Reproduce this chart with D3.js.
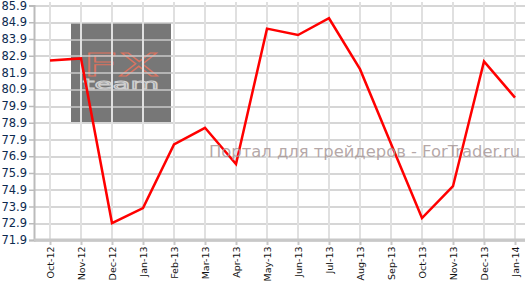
<!DOCTYPE html>
<html>
<head>
<meta charset="utf-8">
<script src="https://cdn.jsdelivr.net/npm/d3@7"></script>
<style>
  body { margin: 0; background: #fff; }
  svg { display: block; }
</style>
</head>
<body>
<div id="chart"></div>
<script>
// chart data
var months = ["Oct-12", "Nov-12", "Dec-12", "Jan-13", "Feb-13", "Mar-13", "Apr-13", "May-13",
  "Jun-13", "Jul-13", "Aug-13", "Sep-13", "Oct-13", "Nov-13", "Dec-13", "Jan-14"];
var values = [82.62, 82.74, 72.91, 73.81, 77.61, 78.6, 76.43, 84.52,
  84.14, 85.14, 82.1, 77.65, 73.21, 75.11, 82.56, 80.4];
var yTicks = [71.9, 72.9, 73.9, 74.9, 75.9, 76.9, 77.9, 78.9, 79.9, 80.9, 81.9, 82.9, 83.9, 84.9, 85.9];

var svgWidth = 525;
var svgHeight = 282;
var margin = { top: 5.5, right: -5, bottom: 42, left: 34 };
var width = svgWidth - margin.left - margin.right;
var height = svgHeight - margin.top - margin.bottom;

var svg = d3.select("#chart")
  .append("svg")
  .attr("width", svgWidth)
  .attr("height", svgHeight);

var g = svg.append("g")
  .attr("transform", `translate(${margin.left}, ${margin.top})`);

var x = d3.scalePoint()
  .domain(months)
  .range([16, 16 + 31 * 15]);

var y = d3.scaleLinear()
  .domain([71.9, 85.9])
  .range([height, 0]);

// watermark box (behind the grid)
g.append("rect")
  .attr("x", 71 - margin.left)
  .attr("y", 23 - margin.top)
  .attr("width", 100)
  .attr("height", 99)
  .attr("fill", "#777");

// logo: one text, two lines
var logo = g.append("text")
  .attr("transform", `translate(${83 - margin.left}, ${-margin.top})`)
  .attr("font-family", "DejaVu Sans")
  .attr("fill", "none");
logo.append("tspan")
  .attr("x", 0).attr("y", 76)
  .attr("font-size", 32)
  .attr("stroke", "#d9735f")
  .attr("stroke-width", 1)
  .attr("textLength", 76)
  .attr("lengthAdjust", "spacingAndGlyphs")
  .text("FX");
logo.append("tspan")
  .attr("x", 0).attr("y", 89)
  .attr("font-size", 14)
  .attr("stroke", "#cfcfcf")
  .attr("stroke-width", 0.9)
  .attr("textLength", 76)
  .attr("lengthAdjust", "spacingAndGlyphs")
  .text("team");

// horizontal grid
g.append("g")
  .selectAll("line")
  .data(yTicks)
  .join("line")
  .attr("x1", 0)
  .attr("x2", width)
  .attr("y1", d => Math.round(y(d)) + 0.5)
  .attr("y2", d => Math.round(y(d)) + 0.5)
  .attr("stroke", "#c8c8c8")
  .attr("stroke-width", 1.5);

// vertical grid
g.append("g")
  .selectAll("line")
  .data(months)
  .join("line")
  .attr("x1", d => x(d))
  .attr("x2", d => x(d))
  .attr("y1", -3.5)
  .attr("y2", height)
  .attr("stroke", "#e0e0e0")
  .attr("stroke-width", 2);

// y axis
var yAxis = g.append("g")
  .call(d3.axisLeft(y).tickValues(yTicks).tickFormat(d3.format(".1f")).tickSize(5).tickPadding(2));
yAxis.select(".domain").attr("stroke", "#bbb").attr("stroke-width", 2);
yAxis.selectAll(".tick line").attr("stroke", "#bbb").attr("stroke-width", 1.5);
yAxis.selectAll("text")
  .attr("font-family", "Verdana, DejaVu Sans, sans-serif")
  .attr("font-size", 11.5)
  .attr("fill", "#0d2a50");

// x axis
var xAxis = g.append("g")
  .attr("transform", `translate(0, ${height})`)
  .call(d3.axisBottom(x).tickSize(5).tickPadding(3));
xAxis.select(".domain").attr("d", `M0,0H${width}`).attr("stroke", "#c8c8c8").attr("stroke-width", 3);
xAxis.selectAll(".tick line").attr("stroke", "#c8c8c8").attr("stroke-width", 2);
xAxis.selectAll("text")
  .attr("font-family", "Verdana, DejaVu Sans, sans-serif")
  .attr("font-size", 9.5)
  .attr("fill", "#111")
  .attr("text-anchor", "end")
  .attr("transform", "rotate(-90)")
  .attr("x", -6.5)
  .attr("y", 0)
  .attr("dy", "0.35em");

// line
var line = d3.line()
  .x((d, i) => x(months[i]))
  .y(d => y(d));

g.append("path")
  .datum(values)
  .attr("d", line)
  .attr("fill", "none")
  .attr("stroke", "#ff0000")
  .attr("stroke-width", 2.5)
  .attr("stroke-linejoin", "miter");

// watermark text
svg.append("text")
  .attr("x", 209)
  .attr("y", 157)
  .attr("font-family", "DejaVu Sans")
  .attr("font-size", 16)
  .attr("fill", "#a89898")
  .attr("fill-opacity", 0.85)
  .attr("textLength", 311)
  .attr("lengthAdjust", "spacingAndGlyphs")
  .text("Портал для трейдеров - ForTrader.ru");
</script>
</body>
</html>
